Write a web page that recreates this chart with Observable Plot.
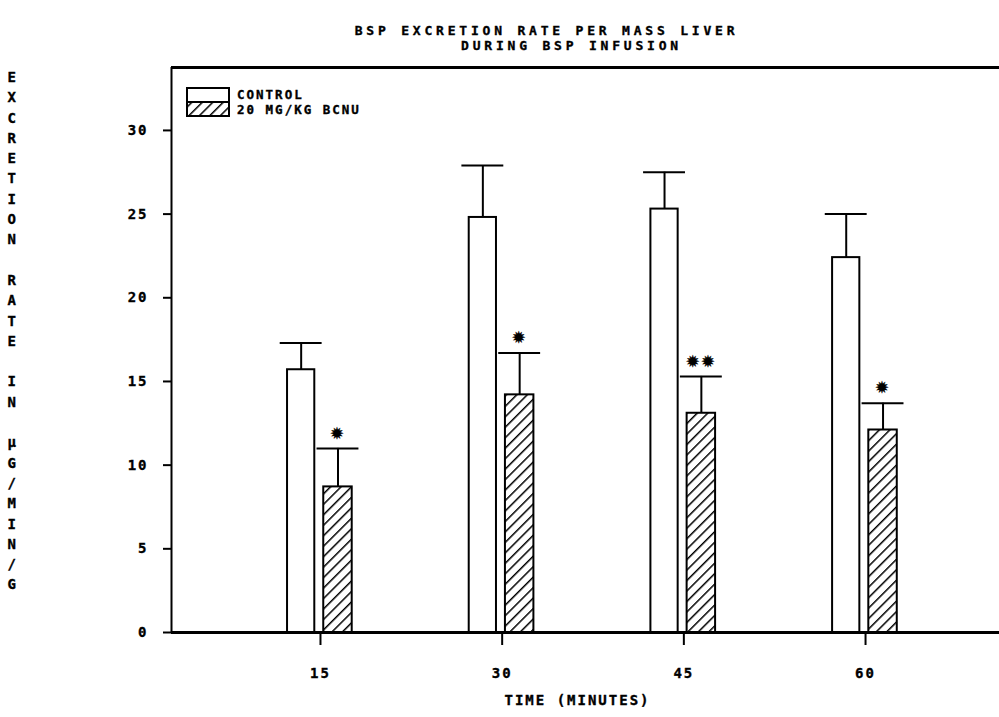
<!DOCTYPE html>
<html><head><meta charset="utf-8">
<script src="https://cdn.jsdelivr.net/npm/d3@7"></script>
<script src="https://cdn.jsdelivr.net/npm/@observablehq/plot@0.6"></script>
<style>
body{margin:0;background:#fff;}
#chart{width:999px;height:717px;}
#chart svg text{letter-spacing:2px;stroke:black;stroke-width:0.35px;}
#chart svg text.ttl{letter-spacing:3.8px;}
</style></head><body><div id="chart"></div>
<script>
const times = [15, 30, 45, 60];
const controlMean = [15.7, 24.8, 25.3, 22.4];
const controlUpper = [17.3, 27.9, 27.5, 25.0];
const bcnuMean = [8.7, 14.2, 13.1, 12.1];
const bcnuUpper = [11.0, 16.7, 15.3, 13.7];
const bcnuSig = ["*", "*", "**", "*"];
const seriesNames = ["CONTROL", "20 MG/KG BCNU"];
const yTicks = [0, 5, 10, 15, 20, 25, 30];
const titleLines = ["BSP EXCRETION RATE PER MASS LIVER", "DURING BSP INFUSION"];
const yLabel = "EXCRETION RATE IN µG/MIN/G";
const xLabel = "TIME (MINUTES)";

const rows = times.flatMap((t, i) => [
  {time: t, group: seriesNames[0], mean: controlMean[i], upper: controlUpper[i], sig: ""},
  {time: t, group: seriesNames[1], mean: bcnuMean[i], upper: bcnuUpper[i], sig: bcnuSig[i]}
]);
const ctrl = rows.filter(d => d.group === seriesNames[0]);
const bcnu = rows.filter(d => d.group === seriesNames[1]);
// bar offsets (in minutes) relative to the tick
const off = d => d.group === seriesNames[0] ? [-2.72, -0.47] : [0.27, 2.62];
const ctr = d => d.time + (off(d)[0] + off(d)[1]) / 2;
const capHalf = 1.73;
const xDomain = [2.7, 71.06];
const yDomain = [0, 33.76];
const FONT = "'DejaVu Sans Mono', monospace";

const svg = Plot.plot({
  width: 999, height: 717,
  marginLeft: 171, marginRight: 0, marginTop: 67, marginBottom: 85,
  style: {fontFamily: FONT, fontSize: "14px", fontWeight: "bold", color: "black", background: "white"},
  x: {domain: xDomain},
  y: {domain: yDomain},
  marks: [
    Plot.rectY(ctrl, {x1: d => d.time + off(d)[0], x2: d => d.time + off(d)[1], y: "mean", fill: "white", stroke: "black", strokeWidth: 2}),
    Plot.rectY(bcnu, {x1: d => d.time + off(d)[0], x2: d => d.time + off(d)[1], y: "mean", fill: "url(#hatch)", stroke: "black", strokeWidth: 2}),
    Plot.ruleX(rows, {x: ctr, y1: "mean", y2: "upper", stroke: "black", strokeWidth: 2}),
    Plot.ruleY(rows, {y: "upper", x1: d => ctr(d) - capHalf, x2: d => ctr(d) + capHalf, stroke: "black", strokeWidth: 2}),
    Plot.text(bcnu, {x: ctr, y: "upper", text: d => d.sig.replace(/\*/g, "✹"), dy: -15, fontSize: 16, fill: "black", fontFamily: "'DejaVu Sans', sans-serif"}),
    Plot.ruleY([yDomain[0]], {stroke: "black", strokeWidth: 3}),
    Plot.ruleY([yDomain[1]], {stroke: "black", strokeWidth: 3}),
    Plot.ruleX([xDomain[0]], {stroke: "black", strokeWidth: 2}),
    Plot.axisX({ticks: times, tickSize: 13, tickPadding: 23, tickFormat: d => String(d), label: null, strokeWidth: 2, fontSize: 14, fontWeight: "bold", fontFamily: FONT}),
    Plot.axisY({ticks: yTicks, tickSize: 8, tickPadding: 15, label: null, strokeWidth: 2, fontSize: 14, fontWeight: "bold", fontFamily: FONT}),
    Plot.text([xLabel], {frameAnchor: "bottom", dx: -8, dy: 72, fontSize: 14, fontWeight: "bold", fontFamily: FONT}),
    Plot.text([titleLines[0]], {frameAnchor: "top-left", dx: 375, dy: -42, textAnchor: "middle", fontSize: 13, fontWeight: "bold", fontFamily: FONT}),
    Plot.text([titleLines[1]], {frameAnchor: "top-left", dx: 400, dy: -26.5, textAnchor: "middle", fontSize: 13, fontWeight: "bold", fontFamily: FONT}),
    Plot.text([yLabel], {frameAnchor: "top-left", dx: -164, dy: 0, lineAnchor: "top", lineHeight: 1.45, text: d => d.split("").join("\n"), fontSize: 14, fontWeight: "bold", fontFamily: FONT})
  ]
});

const s = d3.select(svg);
s.insert("defs", ":first-child").html(
  '<pattern id="hatch" patternUnits="userSpaceOnUse" width="7.4" height="7.4" patternTransform="rotate(45)">' +
  '<rect width="7.4" height="7.4" fill="white"/><line x1="0" y1="0" x2="0" y2="7.4" stroke="black" stroke-width="3"/></pattern>'
);
// title lines get a class so that their letter spacing can be wider
s.selectAll("text").each(function() {
  if (titleLines.includes(this.textContent)) this.setAttribute("class", "ttl");
});
// legend
const lg = s.append("g").attr("font-family", FONT).attr("font-size", 12.5).attr("font-weight", "bold").attr("text-anchor", "start");
lg.append("rect").attr("x", 187).attr("y", 88).attr("width", 42).attr("height", 14).attr("fill", "white").attr("stroke", "black").attr("stroke-width", 2);
lg.append("rect").attr("x", 187).attr("y", 102).attr("width", 42).attr("height", 14).attr("fill", "url(#hatch)").attr("stroke", "black").attr("stroke-width", 2);
lg.selectAll("text.lt").data(seriesNames).join("text")
  .attr("class", "lt").attr("text-anchor", "start")
  .attr("x", 237).attr("y", (d, i) => 95 + i * 15).attr("dy", "0.35em").text(d => d);
document.getElementById("chart").appendChild(svg);
</script></body></html>
